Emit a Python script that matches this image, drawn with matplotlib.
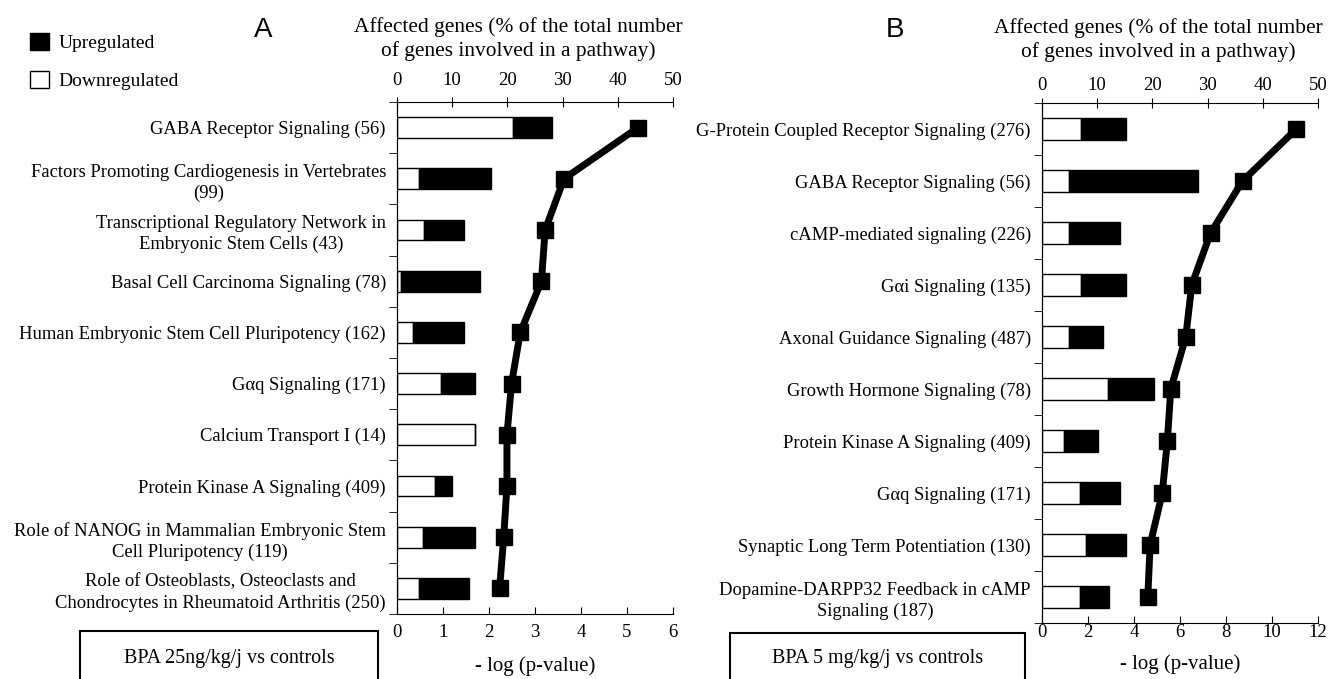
import numpy as np
import matplotlib.pyplot as plt
from matplotlib.patches import Patch, Rectangle

plt.rcParams['font.family'] = ['Liberation Serif', 'DejaVu Serif']
plt.rcParams['font.size'] = 13.4

# --- panel A : BPA 25ng/kg/j
labels_a = ["GABA Receptor Signaling (56)",
            "Factors Promoting Cardiogenesis in Vertebrates\n(99)",
            "Transcriptional Regulatory Network in\nEmbryonic Stem Cells (43)",
            "Basal Cell Carcinoma Signaling (78)",
            "Human Embryonic Stem Cell Pluripotency (162)",
            "Gαq Signaling (171)",
            "Calcium Transport I (14)",
            "Protein Kinase A Signaling (409)",
            "Role of NANOG in Mammalian Embryonic Stem\nCell Pluripotency (119)",
            "Role of Osteoblasts, Osteoclasts and\nChondrocytes in Rheumatoid Arthritis (250)"]
down_a = [21.0, 3.9, 4.9, 0.8, 2.9, 7.9, 14.1, 6.9, 4.8, 3.9]
up_a = [7.1, 13.2, 7.2, 14.2, 9.2, 6.2, 0.0, 3.1, 9.3, 9.1]
logp_a = [5.24, 3.63, 3.22, 3.14, 2.68, 2.49, 2.39, 2.39, 2.32, 2.23]

# --- panel B : BPA 5 mg/kg/j
labels_b = ["G-Protein Coupled Receptor Signaling (276)",
            "GABA Receptor Signaling (56)",
            "cAMP-mediated signaling (226)",
            "Gαi Signaling (135)",
            "Axonal Guidance Signaling (487)",
            "Growth Hormone Signaling (78)",
            "Protein Kinase A Signaling (409)",
            "Gαq Signaling (171)",
            "Synaptic Long Term Potentiation (130)",
            "Dopamine-DARPP32 Feedback in cAMP\nSignaling (187)"]
down_b = [7.0, 4.9, 4.9, 7.0, 4.9, 11.9, 3.9, 6.9, 8.0, 6.9]
up_b = [8.2, 23.3, 9.3, 8.2, 6.2, 8.3, 6.2, 7.3, 7.2, 5.3]
logp_b = [11.06, 8.72, 7.33, 6.51, 6.25, 5.60, 5.45, 5.23, 4.70, 4.60]

W, H = 1335, 679
fig = plt.figure(figsize=(W / 100, H / 100), dpi=100)


def panel(rect, labels, down, up, logp, pmax, pticks, toppad, botpad, xlpad):
    ax = fig.add_axes(rect)
    y = np.arange(len(labels)) + 0.5
    ax.barh(y, down, height=0.41, color='white', edgecolor='black', linewidth=1)
    ax.barh(y, up, left=down, height=0.41, color='black', edgecolor='black', linewidth=1)
    ax.set_xlim(0, 50)
    ax.set_ylim(len(labels), 0)
    ax.set_yticks(y)
    ax.set_yticklabels(labels, linespacing=1.3)
    ax.set_yticks(np.arange(len(labels) + 1), minor=True)
    ax.tick_params(axis='y', which='major', length=0, pad=8)
    ax.tick_params(axis='y', which='minor', length=5.5, direction='out')
    for lbl in ax.get_yticklabels():
        lbl.set_multialignment('center')

    # -log(p) on a twin axis, placed at the bottom
    ax2 = ax.twiny()
    ax2.plot(logp, y, color='black', linewidth=5, marker='s', markersize=11)
    ax2.set_xlim(0, pmax)
    ax2.set_xticks(pticks)
    ax2.xaxis.tick_bottom()
    ax2.xaxis.set_label_position('bottom')
    ax2.tick_params(axis='x', direction='in', length=5, pad=botpad, labelsize=13.5)
    ax2.set_xlabel('- log (p-value)', fontsize=15, labelpad=xlpad)
    ax2.spines['right'].set_visible(False)
    ax2.spines['top'].set_visible(False)

    # percent axis on top (twiny moved it to the bottom)
    ax.xaxis.tick_top()
    ax.set_xticks(np.arange(0, 51, 10))
    ax.tick_params(axis='x', direction='inout', length=7, pad=toppad, labelsize=13.5)
    ax.spines['right'].set_visible(False)
    ax.spines['bottom'].set_visible(False)
    return ax


panel([397 / W, 1 - 614 / H, 276 / W, 512 / H], labels_a, down_a, up_a, logp_a,
      6, range(0, 7), 6, 7, 11)
panel([1042 / W, 1 - 623 / H, 276 / W, 520 / H], labels_b, down_b, up_b, logp_b,
      12, range(0, 13, 2), 3, 1, 9)

title = 'Affected genes (% of the total number\nof genes involved in a pathway)'
fig.text(518 / W, 1 - 39 / H, title, ha='center', va='center', fontsize=15.4, linespacing=1.28)
fig.text(1158 / W, 1 - 40 / H, title, ha='center', va='center', fontsize=15.4, linespacing=1.28)

fig.text(263 / W, 1 - 30 / H, 'A', family='Liberation Sans', fontsize=20, ha='center', va='center')
fig.text(895 / W, 1 - 30 / H, 'B', family='Liberation Sans', fontsize=20, ha='center', va='center')

handles = [Patch(facecolor='black', edgecolor='black'),
           Patch(facecolor='white', edgecolor='black')]
fig.legend(handles, ['Upregulated', 'Downregulated'], loc='upper left',
           bbox_to_anchor=(20 / W, 1 - 23 / H), frameon=False, borderpad=0,
           handlelength=1.0, handleheight=1.0, handletextpad=0.5, labelspacing=0.95,
           fontsize=14)

# condition boxes at the bottom
for x0, x1, ytop, txt in [(80, 378, 631, 'BPA 25ng/kg/j vs controls'),
                          (730, 1025, 633, 'BPA 5 mg/kg/j vs controls')]:
    fig.patches.append(Rectangle((x0 / W, -0.05), (x1 - x0) / W, (1 - ytop / H) + 0.05,
                                 transform=fig.transFigure, facecolor='none',
                                 edgecolor='black', linewidth=1.5))
    fig.text((x0 + x1) / 2 / W, 1 - 659 / H, txt, ha='center', va='center', fontsize=14.5)

fig.savefig('out.png', dpi=100)
